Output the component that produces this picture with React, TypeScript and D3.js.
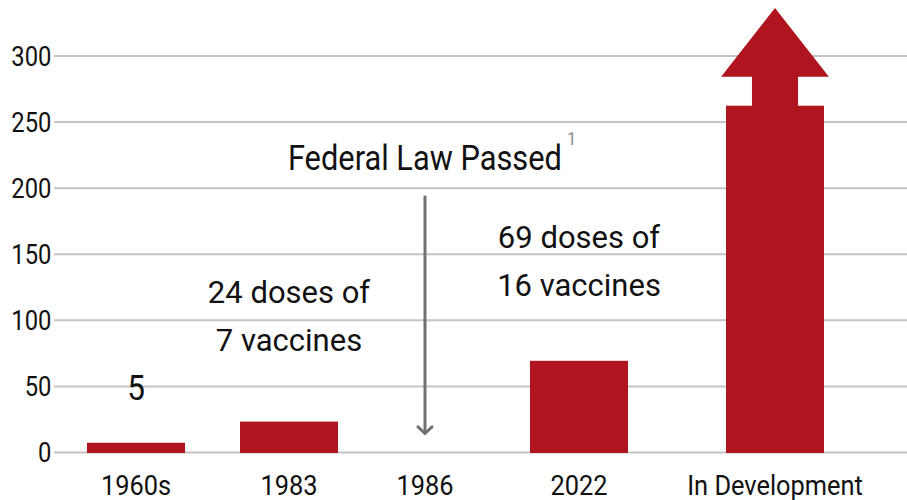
import { useRef, useEffect } from "react";
import * as d3 from "d3";

const categories = ["1960s", "1983", "1986", "2022", "In Development"];
const doses: (number | null)[] = [7, 23, null, 69, 262];
const yTicks = [0, 50, 100, 150, 200, 250, 300];
const arrowBase = 284;
const arrowTip = 336;
const barLabels = [
  { cat: "1960s", lines: ["5"], value: 39, size: 35 },
  { cat: "1983", lines: ["24 doses of", "7 vaccines"], value: 113, size: 31 },
  { cat: "2022", lines: ["69 doses of", "16 vaccines"], value: 154, size: 31 },
];
const lawCategory = "1986";
const lawText = "Federal Law Passed";

const RED = "#b0151f";
const FONT = "Roboto, 'Noto Sans', sans-serif";

export default function App() {
  const ref = useRef<SVGSVGElement>(null);

  useEffect(() => {
    if (!ref.current) return;
    const svg = d3.select(ref.current); svg.selectAll("*").remove();
    const W = 907;
    const left = 54;
    const y = d3.scaleLinear().domain([0, 300]).range([452, 55.5]);
    // hand-placed infographic columns, so the centres are not evenly spaced
    const x = d3.scaleOrdinal<string, number>().domain(categories).range([136, 289, 425, 579, 775]);
    const bw = 98;

    const yAxis = svg.append("g").attr("transform", `translate(${left},0)`)
      .call(d3.axisLeft(y).tickValues(yTicks).tickSize(-(W - left)).tickPadding(3));
    yAxis.select(".domain").remove();
    yAxis.selectAll(".tick line").attr("stroke", "#c4c4c4").attr("stroke-width", 2);
    yAxis.selectAll(".tick text").attr("fill", "#111").attr("font-size", "27px").attr("font-family", FONT)
      .attr("transform", "scale(0.88,1)").attr("dy", "0.36em");

    const data = categories.map((c, i) => ({ c, v: doses[i] })).filter(d => d.v !== null) as { c: string; v: number }[];
    svg.selectAll(".bar").data(data).join("rect").attr("class", "bar")
      .attr("x", d => x(d.c) - bw / 2).attr("width", bw)
      .attr("y", d => y(d.v)).attr("height", d => y(0) - y(d.v) + 1)
      .attr("fill", RED);

    // up arrow on top of the last column
    const last = data[data.length - 1];
    const cx = x(last.c);
    const shaft = bw * 0.47, head = bw * 1.1;
    svg.append("path").attr("fill", RED).attr("d", [
      `M${cx - shaft / 2},${y(last.v) + 1}`, `L${cx - shaft / 2},${y(arrowBase)}`, `L${cx - head / 2},${y(arrowBase)}`,
      `L${cx},${y(arrowTip)}`, `L${cx + head / 2},${y(arrowBase)}`, `L${cx + shaft / 2},${y(arrowBase)}`,
      `L${cx + shaft / 2},${y(last.v) + 1}`, "Z"].join(""));

    // category labels
    svg.selectAll(".xl").data(categories).join("text").attr("class", "xl")
      .attr("transform", d => `translate(${x(d)},495) scale(0.94,1)`)
      .attr("text-anchor", "middle").attr("fill", "#111").attr("font-size", "27px").attr("font-family", FONT)
      .text(d => d);

    // annotations over the bars
    barLabels.forEach(b => {
      b.lines.forEach((t, i) => {
        svg.append("text").attr("transform", `translate(${x(b.cat)},${y(b.value) + i * 48}) scale(${b.size > 32 ? 0.9 : 1},1)`)
          .attr("text-anchor", "middle").attr("fill", "#111").attr("font-size", b.size + "px").attr("font-family", FONT)
          .text(t);
      });
    });

    // federal law marker
    const lx = x(lawCategory);
    const lt = svg.append("text").attr("transform", `translate(${lx + 7},${y(213)}) scale(0.88,1)`)
      .attr("text-anchor", "middle").attr("fill", "#111").attr("font-size", "35px").attr("font-family", FONT);
    lt.append("tspan").text(lawText);
    lt.append("tspan").attr("dx", 6).attr("dy", -25).attr("font-size", "18px").attr("fill", "#888").text("1");
    svg.append("line").attr("x1", lx).attr("x2", lx).attr("y1", y(194)).attr("y2", y(14))
      .attr("stroke", "#707070").attr("stroke-width", 3);
    svg.append("path").attr("d", `M${lx - 7},${y(19)}L${lx},${y(14)}L${lx + 7},${y(19)}`)
      .attr("fill", "none").attr("stroke", "#707070").attr("stroke-width", 3).attr("stroke-linecap", "round");
  }, []);

  return (
    <svg ref={ref} width={907} height={500} style={{ position: "absolute", left: 0, top: 0, background: "#fff" }} />
  );
}
